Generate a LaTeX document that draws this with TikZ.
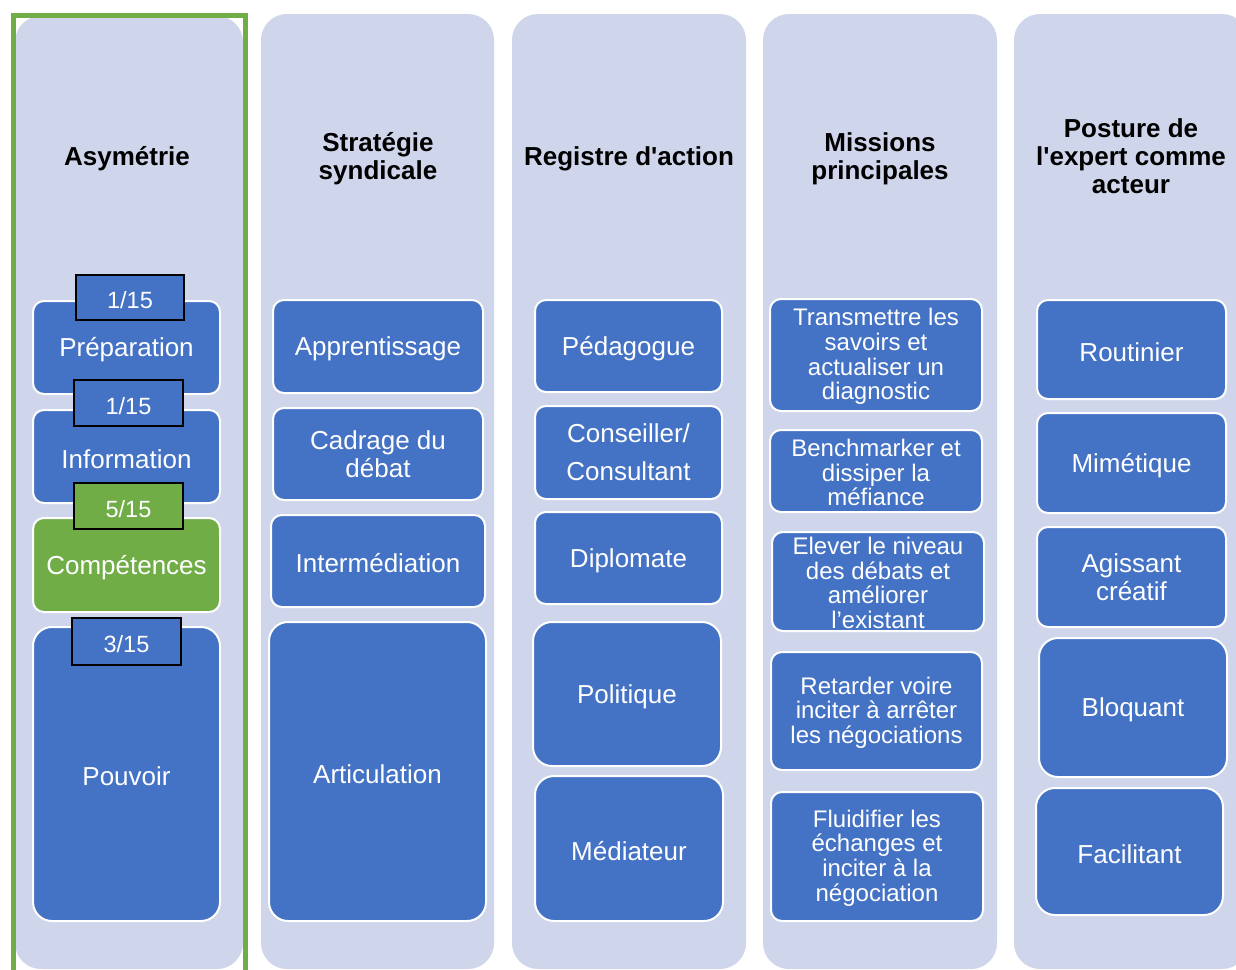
\documentclass[tikz,border=0pt]{standalone}
\usepackage{fontspec}
\setmainfont{Liberation Sans}
\definecolor{lav}{HTML}{CFD5EA}
\definecolor{bblue}{HTML}{4472C4}
\definecolor{ggreen}{HTML}{70AD47}
\tikzset{
  colbg/.style={fill=lav, rounded corners=26pt},
  hdr/.style={font=\fontsize{26}{28}\selectfont\bfseries, align=center, text=black, inner sep=0pt},
  item/.style={draw=white, line width=2pt, fill=bblue, rounded corners=11pt, inner sep=0pt},
  bigitem/.style={item, rounded corners=19pt},
  greenitem/.style={item, fill=ggreen},
  badge/.style={draw=black, line width=2pt, fill=bblue, inner sep=0pt},
  greenbadge/.style={badge, fill=ggreen},
  txt/.style={text=white, align=center, inner sep=0pt, font=\fontsize{26}{28}\selectfont},
  one/.style={txt, yshift=-2.5pt},
  multi/.style={txt},
  mission/.style={txt, font=\fontsize{24}{24.7}\selectfont, yshift=-1.5pt},
  badgetxt/.style={txt, font=\fontsize{23.5}{26}\selectfont, yshift=-3pt},
}
\newcommand\pbox[8]{%
  \node[#1, minimum width={(#6-#4)*1pt}, minimum height={(#7-#5)*1pt}] (#3) at ({(#4+#6)/2},{(#5+#7)/2}) {};
  \node[#2] (#3-t) at (#3.center) {#8};}
\begin{document}
\begin{tikzpicture}[x=1pt,y=-1pt]
\path[use as bounding box] (0,0) rectangle (1236,969);
\clip (0,0) rectangle (1236,969);
\fill[white] (0,0) rectangle (1236,969);
% column backgrounds
\fill[colbg] (15,16) rectangle (243,969);
\fill[colbg] (261,14) rectangle (494,969);
\fill[colbg] (512,14) rectangle (746,969);
\fill[colbg] (763,14) rectangle (997,969);
\fill[colbg] (1014,14) rectangle (1248,969);
% headers
\node[hdr, yshift=-3pt] (h1) at (127,156) {Asymétrie};
\node[hdr, yshift=-3pt] (h2) at (378,156) {Stratégie\\syndicale};
\node[hdr, yshift=-3pt] (h3) at (629,156) {Registre d\textquotesingle action};
\node[hdr, yshift=-3pt] (h4) at (880,156) {Missions\\principales};
\node[hdr] (h5) at (1131,156) {Posture de\\l\textquotesingle expert comme\\acteur};
% column 1
\pbox{item}{one}{prep}{33}{301}{220}{394}{Préparation}
\pbox{item}{one}{info}{33}{410}{220}{503}{Information}
\pbox{greenitem}{one}{comp}{33}{518}{220}{612}{Compétences}
\pbox{bigitem}{one}{pouv}{33}{627}{220}{921}{Pouvoir}
\pbox{badge}{badgetxt}{b1}{76}{275}{184}{320}{1/15}
\pbox{badge}{badgetxt}{b2}{74}{380}{183}{426}{1/15}
\pbox{greenbadge}{badgetxt}{b3}{74}{483}{183}{529}{5/15}
\pbox{badge}{badgetxt}{b4}{72}{618}{181}{665}{3/15}
% column 2
\pbox{item}{one}{appr}{273}{300}{483}{393}{Apprentissage}
\pbox{item}{multi}{cadr}{273}{408}{483}{500}{Cadrage du\\débat}
\pbox{item}{one}{inter}{271}{515}{485}{607}{Intermédiation}
\pbox{bigitem}{one}{artic}{269}{622}{486}{921}{Articulation}
% column 3
\pbox{item}{one}{peda}{535}{300}{722}{392}{Pédagogue}
\pbox{item}{multi}{cons}{535}{406}{722}{499}{Conseiller/\\[10pt]Consultant}
\pbox{item}{one}{dipl}{535}{512}{722}{604}{Diplomate}
\pbox{bigitem}{one}{poli}{533}{622}{721}{766}{Politique}
\pbox{bigitem}{one}{medi}{535}{776}{723}{921}{Médiateur}
% column 4
\pbox{item}{mission}{m1}{770}{299}{982}{411}{Transmettre les\\savoirs et\\actualiser un\\diagnostic}
\pbox{item}{mission}{m2}{770}{430}{982}{512}{Benchmarker et\\dissiper la\\méfiance}
\pbox{item}{mission}{m3}{772}{532}{984}{631}{Elever le niveau\\des débats et\\améliorer\\l’existant}
\pbox{item}{mission}{m4}{771}{652}{982}{770}{Retarder voire\\inciter à arrêter\\les négociations}
\pbox{item}{mission}{m5}{771}{792}{983}{921}{Fluidifier les\\échanges et\\inciter à la\\négociation}
% column 5
\pbox{item}{one}{rout}{1037}{300}{1226}{399}{Routinier}
\pbox{item}{one}{mime}{1037}{413}{1226}{513}{Mimétique}
\pbox{item}{multi}{agis}{1037}{527}{1226}{627}{Agissant\\créatif}
\pbox{bigitem}{one}{bloq}{1039}{638}{1227}{777}{Bloquant}
\pbox{bigitem}{one}{faci}{1036}{788}{1223}{915}{Facilitant}
% green frame of column 1
\draw[ggreen, line width=5pt] (13,15) rectangle (245,1010);
\end{tikzpicture}
\end{document}
